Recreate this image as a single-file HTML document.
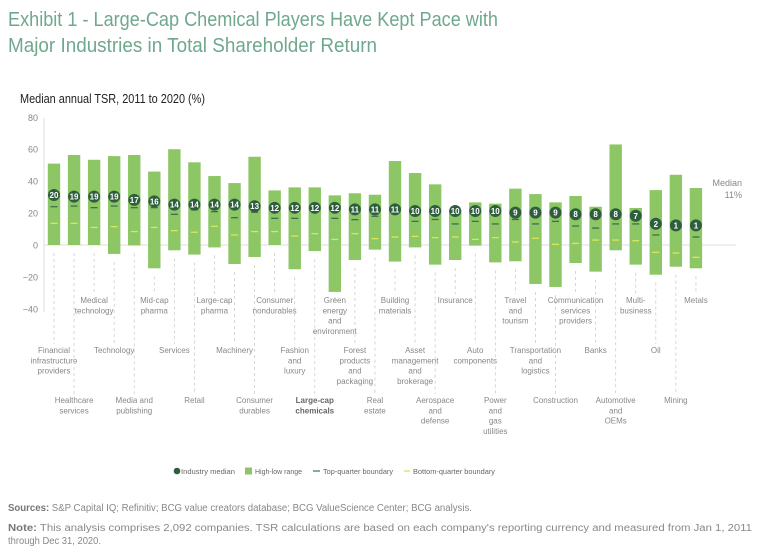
<!DOCTYPE html>
<html><head><meta charset="utf-8"><style>
html,body{margin:0;padding:0;background:#fff;}
svg{display:block;font-family:"Liberation Sans",sans-serif;}
</style></head><body>
<svg id="chart" width="768" height="560" viewBox="0 0 768 560" xmlns="http://www.w3.org/2000/svg">
<text x="8" y="26" font-size="20" fill="#6fa88e" textLength="490" lengthAdjust="spacingAndGlyphs">Exhibit 1 - Large-Cap Chemical Players Have Kept Pace with</text>
<text x="8" y="52" font-size="20" fill="#6fa88e" textLength="369" lengthAdjust="spacingAndGlyphs">Major Industries in Total Shareholder Return</text>
<text x="20" y="103" font-size="12.5" fill="#222" textLength="185" lengthAdjust="spacingAndGlyphs">Median annual TSR, 2011 to 2020 (%)</text>
<g id="axes"></g>
<g id="bars"></g>
<text x="742" y="186" font-size="9" fill="#888" text-anchor="end">Median</text>
<text x="742" y="198" font-size="9" fill="#888" text-anchor="end">11%</text>
<g font-size="7.5" fill="#666">
<circle cx="177" cy="471" r="3.3" fill="#2f5e3f"/>
<text x="181" y="474" textLength="54" lengthAdjust="spacingAndGlyphs">Industry median</text>
<rect x="245" y="467.5" width="7" height="7" fill="#8cc665"/>
<text x="255" y="474" textLength="47" lengthAdjust="spacingAndGlyphs">High-low range</text>
<line x1="313" y1="471" x2="320" y2="471" stroke="#4f7e5f" stroke-width="1.3"/>
<text x="323" y="474" textLength="70" lengthAdjust="spacingAndGlyphs">Top-quarter boundary</text>
<line x1="404" y1="471" x2="410" y2="471" stroke="#d4e35a" stroke-width="1.3"/>
<text x="413" y="474" textLength="82" lengthAdjust="spacingAndGlyphs">Bottom-quarter boundary</text>
</g>
<text x="8" y="511" font-size="10" fill="#888" textLength="464" lengthAdjust="spacingAndGlyphs"><tspan font-weight="bold" fill="#777">Sources:</tspan> S&amp;P Capital IQ; Refinitiv; BCG value creators database; BCG ValueScience Center; BCG analysis.</text>
<text x="8" y="531" font-size="10" fill="#888" textLength="744" lengthAdjust="spacingAndGlyphs"><tspan font-weight="bold" fill="#777">Note:</tspan> This analysis comprises 2,092 companies. TSR calculations are based on each company's reporting currency and measured from Jan 1, 2011</text>
<text x="8" y="544" font-size="10" fill="#888" textLength="93" lengthAdjust="spacingAndGlyphs">through Dec 31, 2020.</text>
</svg>
<script>
const categories=["Financial\ninfrastructure\nproviders","Healthcare\nservices","Medical\ntechnology","Technology","Media and\npublishing","Mid-cap\npharma","Services","Retail","Large-cap\npharma","Machinery","Consumer\ndurables","Consumer\nnondurables","Fashion\nand\nluxury","Large-cap\nchemicals","Green\nenergy\nand\nenvironment","Forest\nproducts\nand\npackaging","Real\nestate","Building\nmaterials","Asset\nmanagement\nand\nbrokerage","Aerospace\nand\ndefense","Insurance","Auto\ncomponents","Power\nand\ngas\nutilities","Travel\nand\ntourism","Transportation\nand\nlogistics","Construction","Communication\nservices\nproviders","Banks","Automotive\nand\nOEMs","Multi-\nbusiness","Oil","Mining","Metals"];
const medians=[20,19,19,19,17,16,14,14,14,14,13,12,12,12,12,11,11,11,10,10,10,10,10,9,9,9,8,8,8,7,2,1,1];
const highs=[51,56.4,53.4,55.7,56.4,46,60,51.8,43.2,38.8,55.3,34.2,36.1,36.1,31.1,32.4,31.5,52.6,45.1,38,22,26.7,25.9,35.3,31.9,26.7,30.7,24,63,23.2,34.4,44,35.7];
const lows=[0,0,0,-5.6,-0.3,-14.6,-3.3,-6,-1.5,-11.9,-7.5,0,-15.2,-3.8,-29.4,-9.4,-2.9,-10.4,-1.5,-12.3,-9.4,-0.4,-10.9,-10.2,-24.4,-26.3,-11.3,-16.7,-3.3,-12.3,-18.6,-13.6,-14.6];
const topQuarter=[24,24.4,23.4,24.4,23.4,23.4,19.2,22,20.9,17.1,20.5,16.7,16.7,20.9,16.7,15.9,18,19.6,14.8,16,13.2,14.8,13.2,16,13.2,14.8,11.9,10.6,13.2,13.2,6.3,10,5];
const bottomQuarter=[13.6,13.6,11,11.5,8.4,11,9,8,11.7,6.3,8.4,8.4,5.6,7.1,3.5,7.1,4,5,5.4,4.6,5,3.5,4.6,1.9,4.2,0.4,1,3.1,3.1,2.7,-4.6,-5,-7.7];
const yTicks=[80,60,40,20,0,-20,-40];

const NS="http://www.w3.org/2000/svg";
const y=v=>245-v*1.596;
const x=i=>54+i*20.06;
function mk(tag,attrs,parent){const e=document.createElementNS(NS,tag);for(const k in attrs)e.setAttribute(k,attrs[k]);parent.appendChild(e);return e;}
const axes=document.getElementById('axes'),bars=document.getElementById('bars');
let a=mk('line',{x1:44,y1:118,x2:44,y2:312,stroke:'#ddd','stroke-width':1},axes);


yTicks.forEach(t=>{const e=mk('text',{x:38,y:y(t)+3.5,'font-size':9,fill:'#888','text-anchor':'end'},axes);e.textContent=t<0?'\u2212'+(-t):t;

});
const z=mk('line',{x1:44,y1:y(0),x2:736,y2:y(0),stroke:'#ddd','stroke-width':1},axes);


const tierY=[353,403,303];
categories.forEach((c,i)=>{
  const cx=x(i),lines=c.split('\n'),ty=tierY[i%3];
  const dl=mk('line',{x1:cx,y1:Math.max(y(lows[i]),y(0))+8,x2:cx,y2:ty-9,stroke:'#ccc','stroke-width':0.8,'stroke-dasharray':'3,3'},bars);
  
  
  const r=mk('rect',{x:cx-6.2,y:y(highs[i]),width:12.4,height:y(lows[i])-y(highs[i]),fill:'#8cc665'},bars);
  
  
  const tq=mk('line',{x1:cx-3.5,x2:cx+3.5,y1:y(topQuarter[i]),y2:y(topQuarter[i]),stroke:'#3f6e4f','stroke-width':1.3},bars);
  
  
  const bq=mk('line',{x1:cx-3.5,x2:cx+3.5,y1:y(bottomQuarter[i]),y2:y(bottomQuarter[i]),stroke:'#d8e85a','stroke-width':1.3},bars);
  
  
  const my=y(medians[i]+11.3);
  const ci=mk('circle',{cx:cx,cy:my,r:6,fill:'#2f5e3f'},bars);
  
  
  const mt=mk('text',{x:cx,y:my+3,'font-size':8,'font-weight':'bold',fill:'#fff','text-anchor':'middle'},bars);
  mt.textContent=medians[i];
  
  
  const lt=mk('text',{'font-size':8,fill:'#888','text-anchor':'middle'},bars);
  
  
  if(i===13){lt.setAttribute('font-weight','bold');lt.setAttribute('fill','#666');}
  lines.forEach((l,k)=>{const ts=mk('tspan',{x:cx,y:ty+k*10.3},lt);ts.textContent=l;});
});
</script>
</body></html>
